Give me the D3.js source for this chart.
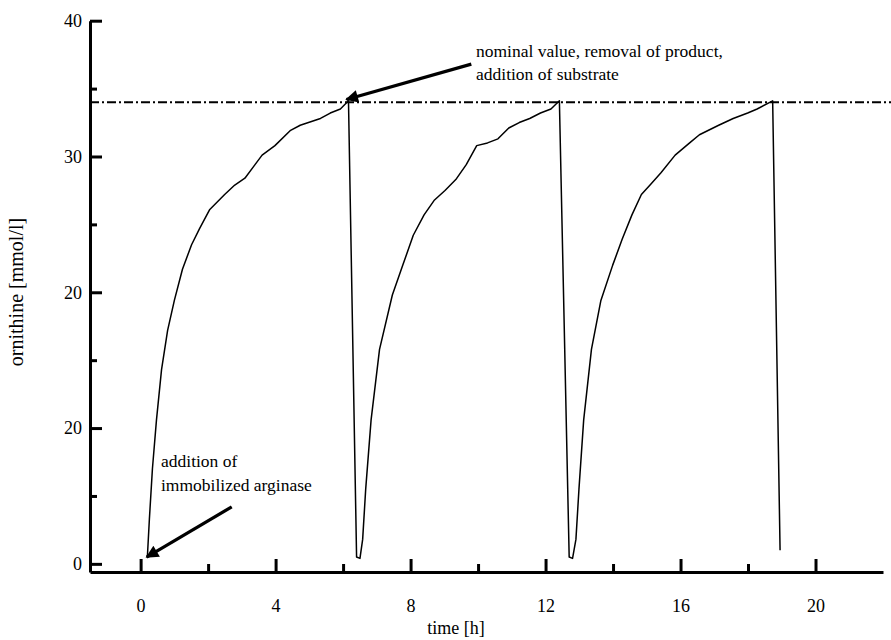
<!DOCTYPE html>
<html>
<head>
<meta charset="utf-8">
<script src="https://cdn.jsdelivr.net/npm/d3@7/dist/d3.min.js"></script>
<style>
  body { margin: 0; background: #fff; }
  svg { display: block; }
  text { font-family: "Liberation Serif", "Times New Roman", "DejaVu Serif", serif; fill: #000; }
</style>
</head>
<body>
<svg id="chart" width="891" height="640"></svg>
<script>
// ---- data ----
const timeH = [0.20,0.26,0.35,0.47,0.62,0.80,1.00,1.24,1.51,1.75,2.05,2.49,2.79,3.09,3.39,3.60,3.98,4.43,4.73,5.33,5.62,5.92,6.16,
  6.40,6.50,6.58,6.67,6.83,7.08,7.46,7.77,8.08,8.40,8.71,9.02,9.34,9.65,9.96,10.28,10.59,10.91,11.22,11.53,11.85,12.16,12.41,
  12.70,12.80,12.90,12.99,13.13,13.36,13.64,13.99,14.27,14.56,14.84,15.13,15.42,15.84,16.27,16.56,17.13,17.56,17.99,18.27,18.73,
  18.95];
const ornithine = [0.5,3.3,7.0,10.6,14.3,17.2,19.4,21.7,23.5,24.7,26.1,27.2,27.9,28.4,29.4,30.1,30.8,31.9,32.3,32.8,33.2,33.5,34.1,
  0.5,0.4,1.8,5.5,10.6,15.8,19.8,22.0,24.2,25.7,26.8,27.5,28.3,29.4,30.8,31.0,31.3,32.1,32.5,32.8,33.2,33.5,34.1,
  0.5,0.4,1.8,5.5,10.6,15.8,19.4,22.0,23.9,25.7,27.2,28.0,28.8,30.1,31.0,31.6,32.3,32.8,33.2,33.5,34.1,
  1.0];
const nominalValue = 34.0;
const xMajorTicks = [0,4,8,12,16,20];
const xMinorTicks = [2,6,10,14,18];
const yMajorTicks = [0,10,20,30,40];
const yTickLabels = ["0","20","20","30","40"];
const yMinorTicks = [5,15,25,35];
const xTitle = "time [h]";
const yTitle = "ornithine [mmol/l]";
const noteTop = ["nominal value, removal of product,", "addition of substrate"];
const noteBottom = ["addition of", "immobilized arginase"];
// arrow endpoints in data units [time, ornithine]
const arrowTop = {from:[9.8, 36.8], to:[6.1, 34.2]};
const arrowBottom = {from:[2.7, 4.2], to:[0.18, 0.5]};

// ---- drawing ----
const svg = d3.select("#chart");
const x = d3.scaleLinear().domain([-1.5, 22]).range([90, 883]);
const y = d3.scaleLinear().domain([-0.6, 40]).range([572, 20.7]);
const FONT = "'Liberation Serif', 'Times New Roman', 'DejaVu Serif', serif";

svg.append("defs").append("marker")
  .attr("id","ah").attr("viewBox","0 0 10 10").attr("refX",9).attr("refY",5)
  .attr("markerWidth",5.5).attr("markerHeight",4).attr("markerUnits","strokeWidth")
  .attr("orient","auto")
  .append("path").attr("d","M0,0 L10,5 L0,10 Z").attr("fill","#000");

// axes
function styleAxis(g, fs) {
  g.attr("font-family", null).attr("font-size", null);
  g.select(".domain").attr("stroke","#000").attr("stroke-width",3);
  g.selectAll(".tick line").attr("stroke","#000").attr("stroke-width",3);
  g.selectAll(".tick text").style("font-size", fs + "px").style("font-family", FONT);
}
const gx = svg.append("g").attr("transform",`translate(0,${y(-0.6)})`)
  .call(d3.axisBottom(x).tickValues(xMajorTicks).tickSize(-13).tickSizeOuter(0).tickPadding(27).tickFormat(d3.format("d")));
styleAxis(gx, 18);
gx.selectAll(".tick text").attr("dy","0.71em");
const gxm = svg.append("g").attr("transform",`translate(0,${y(-0.6)})`)
  .call(d3.axisBottom(x).tickValues(xMinorTicks).tickSize(-8).tickSizeOuter(0).tickFormat(""));
styleAxis(gxm, 18);
gxm.select(".domain").remove();

const gy = svg.append("g").attr("transform",`translate(${x(-1.5)},0)`)
  .call(d3.axisLeft(y).tickValues(yMajorTicks).tickSize(-12).tickSizeOuter(0).tickPadding(8)
    .tickFormat((d,i) => yTickLabels[i]));
styleAxis(gy, 18);
const gym = svg.append("g").attr("transform",`translate(${x(-1.5)},0)`)
  .call(d3.axisLeft(y).tickValues(yMinorTicks).tickSize(-7).tickSizeOuter(0).tickFormat(""));
styleAxis(gym, 18);
gym.select(".domain").remove();

// nominal value line
svg.append("line")
  .attr("x1", x(-1.5)).attr("x2", 891)
  .attr("y1", y(nominalValue)).attr("y2", y(nominalValue))
  .attr("stroke","#000").attr("stroke-width",2).attr("stroke-dasharray","9,3,2,3");

// curve
const pts = timeH.map((t,i)=>[t, ornithine[i]]);
svg.append("path").datum(pts)
  .attr("fill","none").attr("stroke","#000").attr("stroke-width",1.5)
  .attr("stroke-linejoin","round")
  .attr("d", d3.line().x(d=>x(d[0])).y(d=>y(d[1])));

// arrows
[arrowTop, arrowBottom].forEach(a => {
  svg.append("line")
    .attr("x1", x(a.from[0])).attr("y1", y(a.from[1]))
    .attr("x2", x(a.to[0])).attr("y2", y(a.to[1]))
    .attr("stroke","#000").attr("stroke-width",3.2).attr("marker-end","url(#ah)");
});

// annotations
noteTop.forEach((s,i) => svg.append("text").attr("x",476).attr("y",57+i*23)
  .attr("font-family", FONT).style("font-size","17.5px").text(s));
noteBottom.forEach((s,i) => svg.append("text").attr("x",161).attr("y",467+i*24)
  .attr("font-family", FONT).style("font-size","17.5px").text(s));

// titles
svg.append("text").attr("x", 456).attr("y", 634).attr("text-anchor","middle")
  .style("font-size","18px").style("font-family", FONT).text(xTitle);
svg.append("text").attr("transform","translate(23,292) rotate(-90)")
  .attr("text-anchor","middle").style("font-size","20px").style("font-family", FONT).text(yTitle);
</script>
</body>
</html>
